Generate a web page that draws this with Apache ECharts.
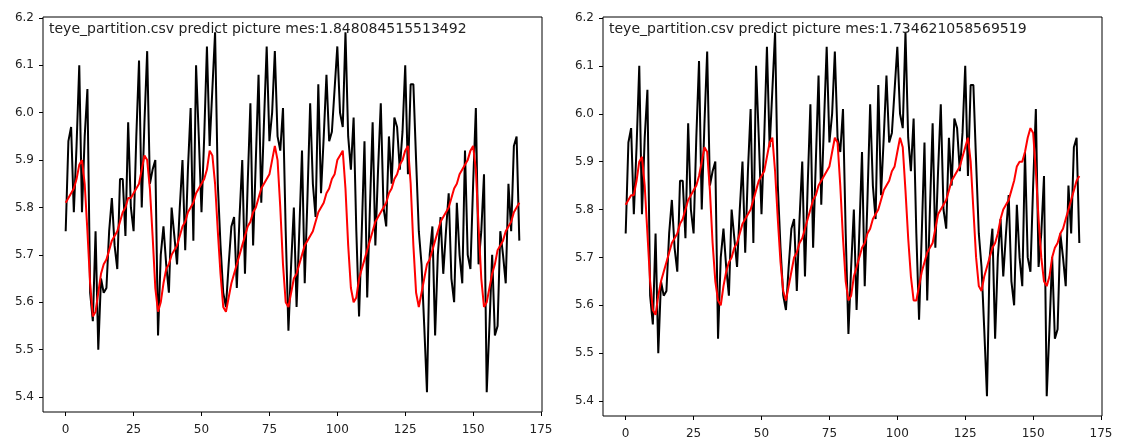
<!DOCTYPE html>
<html>
<head>
<meta charset="utf-8">
<script src="https://cdn.jsdelivr.net/npm/echarts@6/dist/echarts.min.js"></script>
<style>
html,body{margin:0;padding:0;background:#fff;}
#chart{width:1123px;height:442px;}
</style>
</head>
<body>
<div id="chart"></div>
<script>
// ---- data ----
const titles = [
  "teye_partition.csv predict picture mes:1.848084515513492",
  "teye_partition.csv predict picture mes:1.734621058569519"
];
const xTicks = [0, 25, 50, 75, 100, 125, 150, 175];
const yTicks = [5.4, 5.5, 5.6, 5.7, 5.8, 5.9, 6.0, 6.1, 6.2];

// actual values (black), same in both panels
const actual = [
  5.75,5.94,5.97,5.79,5.93,6.10,5.79,5.95,6.05,5.62,
  5.56,5.75,5.50,5.65,5.62,5.63,5.75,5.82,5.72,5.67,
  5.86,5.86,5.74,5.98,5.80,5.75,5.95,6.11,5.80,5.98,
  6.13,5.85,5.88,5.90,5.53,5.70,5.76,5.68,5.62,5.80,
  5.74,5.68,5.80,5.90,5.71,5.88,6.01,5.73,6.10,5.95,
  5.79,5.95,6.14,5.93,6.05,6.17,5.85,5.72,5.62,5.59,
  5.68,5.76,5.78,5.63,5.78,5.90,5.66,5.85,6.02,5.72,
  5.90,6.08,5.81,5.98,6.14,5.94,6.00,6.13,5.95,5.92,
  6.01,5.75,5.54,5.68,5.80,5.59,5.75,5.92,5.64,5.82,
  6.02,5.85,5.78,6.06,5.83,5.95,6.08,5.94,5.96,6.05,
  6.14,6.00,5.97,6.17,5.95,5.88,5.99,5.75,5.57,5.75,
  5.94,5.61,5.80,5.98,5.72,5.88,6.02,5.80,5.76,5.95,
  5.85,5.99,5.97,5.88,5.96,6.10,5.87,6.06,6.06,5.90,
  5.75,5.68,5.55,5.41,5.70,5.76,5.53,5.70,5.78,5.66,
  5.75,5.83,5.65,5.60,5.81,5.70,5.64,5.92,5.70,5.67,
  5.85,6.01,5.68,5.75,5.87,5.41,5.55,5.70,5.53,5.55,
  5.75,5.70,5.64,5.85,5.75,5.93,5.95,5.73
];

// prediction, left panel (red)
const predLeft = [
  5.81,5.82,5.83,5.84,5.86,5.89,5.90,5.85,5.75,5.64,
  5.57,5.58,5.62,5.66,5.68,5.69,5.71,5.73,5.74,5.75,
  5.77,5.79,5.80,5.82,5.82,5.83,5.84,5.85,5.88,5.91,
  5.90,5.84,5.74,5.63,5.58,5.60,5.64,5.67,5.68,5.70,
  5.71,5.72,5.74,5.76,5.77,5.79,5.80,5.81,5.83,5.84,
  5.85,5.86,5.88,5.92,5.91,5.85,5.75,5.66,5.59,5.58,
  5.61,5.64,5.66,5.68,5.70,5.72,5.74,5.76,5.77,5.79,
  5.80,5.82,5.84,5.85,5.86,5.87,5.90,5.93,5.90,5.80,
  5.68,5.60,5.59,5.62,5.65,5.66,5.68,5.70,5.72,5.73,
  5.74,5.75,5.77,5.79,5.80,5.81,5.83,5.84,5.86,5.87,
  5.90,5.91,5.92,5.84,5.72,5.63,5.60,5.61,5.65,5.67,
  5.69,5.71,5.73,5.75,5.77,5.78,5.79,5.80,5.81,5.83,
  5.84,5.86,5.87,5.89,5.90,5.92,5.93,5.85,5.72,5.62,
  5.59,5.62,5.65,5.68,5.69,5.71,5.73,5.75,5.77,5.78,
  5.79,5.80,5.82,5.84,5.85,5.87,5.88,5.89,5.90,5.92,
  5.93,5.88,5.76,5.65,5.59,5.60,5.63,5.66,5.68,5.71,
  5.72,5.73,5.75,5.76,5.77,5.79,5.80,5.81
];

// prediction, right panel (red)
const predRight = [
  5.81,5.82,5.83,5.83,5.86,5.90,5.91,5.85,5.75,5.65,
  5.59,5.58,5.62,5.65,5.67,5.69,5.71,5.73,5.74,5.75,
  5.77,5.78,5.80,5.82,5.83,5.84,5.85,5.87,5.90,5.93,
  5.92,5.84,5.73,5.65,5.61,5.60,5.64,5.67,5.69,5.70,
  5.72,5.73,5.75,5.77,5.78,5.79,5.80,5.82,5.84,5.86,
  5.87,5.88,5.91,5.94,5.95,5.88,5.78,5.69,5.63,5.61,
  5.64,5.67,5.70,5.71,5.73,5.74,5.76,5.78,5.80,5.82,
  5.83,5.85,5.86,5.87,5.88,5.89,5.92,5.95,5.94,5.85,
  5.74,5.65,5.61,5.62,5.66,5.68,5.70,5.72,5.73,5.75,
  5.76,5.78,5.79,5.80,5.82,5.84,5.85,5.86,5.88,5.89,
  5.92,5.95,5.93,5.84,5.74,5.66,5.61,5.61,5.64,5.67,
  5.69,5.71,5.72,5.73,5.76,5.79,5.80,5.81,5.82,5.84,
  5.86,5.87,5.88,5.89,5.91,5.93,5.95,5.90,5.80,5.70,
  5.64,5.63,5.66,5.68,5.70,5.72,5.73,5.75,5.78,5.80,
  5.81,5.82,5.84,5.86,5.89,5.90,5.90,5.92,5.95,5.97,
  5.96,5.88,5.78,5.70,5.65,5.64,5.66,5.70,5.72,5.73,
  5.75,5.76,5.78,5.80,5.82,5.84,5.86,5.87
];

// ---- chart ----
const toPairs = arr => arr.map((v, i) => [i, v]);
const FONT = "DejaVu Sans";
const panels = [
  { grid: { left: 43, top: 17, width: 499, height: 395 }, yMin: 5.3683, yMax: 6.2021 },
  { grid: { left: 603, top: 17, width: 499, height: 399 }, yMin: 5.3687, yMax: 6.2021 }
];

function xAxisFor(g) {
  return {
    type: 'value', gridIndex: g, min: -8.35, max: 175.35,
    axisLine: { show: false, onZero: false },
    splitLine: { show: false },
    axisTick: { show: true, inside: false, length: 4, lineStyle: { color: '#000', width: 1 }, customValues: xTicks },
    axisLabel: { customValues: xTicks, margin: 12, fontSize: 12, color: '#222', fontFamily: FONT }
  };
}
function yAxisFor(g) {
  return {
    type: 'value', gridIndex: g, min: panels[g].yMin, max: panels[g].yMax,
    axisLine: { show: false, onZero: false },
    splitLine: { show: false },
    axisTick: { show: true, inside: false, length: 4, lineStyle: { color: '#000', width: 1 }, customValues: yTicks },
    axisLabel: { customValues: yTicks, margin: 9, fontSize: 12, color: '#222', fontFamily: FONT,
      formatter: v => v.toFixed(1) }
  };
}

const chart = echarts.init(document.getElementById('chart'), null, { renderer: 'canvas' });
chart.setOption({
  animation: false,
  backgroundColor: '#fff',
  title: titles.map((t, k) => ({
    text: t,
    left: panels[k].grid.left + 6,
    top: 22,
    padding: 0,
    textStyle: { fontSize: 14, fontWeight: 'normal', color: '#222', fontFamily: FONT }
  })),
  grid: panels.map(p => Object.assign({ show: true, borderColor: '#000', borderWidth: 1, backgroundColor: 'transparent', containLabel: false }, p.grid)),
  xAxis: [xAxisFor(0), xAxisFor(1)],
  yAxis: [yAxisFor(0), yAxisFor(1)],
  series: [
    { type: 'line', xAxisIndex: 0, yAxisIndex: 0, data: toPairs(actual), showSymbol: false,
      lineStyle: { color: '#000', width: 2 }, itemStyle: { color: '#000' } },
    { type: 'line', xAxisIndex: 0, yAxisIndex: 0, data: toPairs(predLeft), showSymbol: false,
      lineStyle: { color: '#ff0000', width: 2 }, itemStyle: { color: '#ff0000' } },
    { type: 'line', xAxisIndex: 1, yAxisIndex: 1, data: toPairs(actual), showSymbol: false,
      lineStyle: { color: '#000', width: 2 }, itemStyle: { color: '#000' } },
    { type: 'line', xAxisIndex: 1, yAxisIndex: 1, data: toPairs(predRight), showSymbol: false,
      lineStyle: { color: '#ff0000', width: 2 }, itemStyle: { color: '#ff0000' } }
  ]
});
</script>
</body>
</html>
